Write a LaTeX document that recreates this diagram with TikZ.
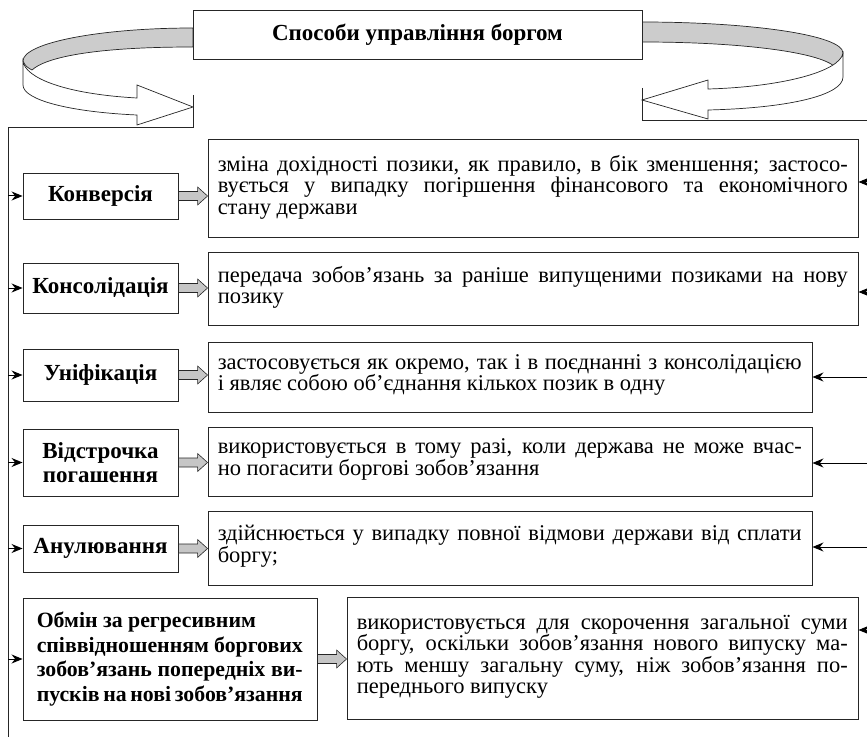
\documentclass[tikz,border=0pt]{standalone}
\usepackage{fontspec}
\setmainfont{Liberation Serif}
\usetikzlibrary{arrows.meta,calc}
\newcommand\jl[2]{\makebox[#1][s]{#2}}
\newcommand\garrow[2]{\path let \p1=(#1.east), \p2=(#2.west) in [draw=black!85, fill=gray!45, line width=0.6pt] (\x1,\y1+4.5pt) -- (\x2-10pt,\y1+4.5pt) -- (\x2-10pt,\y1+9pt) -- (\x2,\y1) -- (\x2-10pt,\y1-9pt) -- (\x2-10pt,\y1-4.5pt) -- (\x1,\y1-4.5pt) -- cycle;}
\tikzset{
  box/.style={draw=black!85, line width=0.9pt, fill=white, inner sep=0pt},
  lab/.style={font=\fontsize{23}{24.5}\selectfont\bfseries, align=center, inner sep=0pt},
  desc/.style={font=\fontsize{22.5}{21.5}\selectfont, align=left, inner sep=0pt, anchor=west},
  arr/.style={line width=1pt, -{Stealth[length=11pt,width=9pt]}},
  ribbon/.style={draw=black!85, line width=0.7pt},
}
\begin{document}
\begin{tikzpicture}[x=1pt,y=-1pt]
\useasboundingbox (0,0) rectangle (867,738);
% ribbons
\path[ribbon, fill=gray!40] (193,28) .. controls (99,28) and (23,43) .. (23,61) .. controls (25,66) and (28,68) .. (32,70) .. controls (45,58) and (90,47) .. (193,47) -- cycle;
\path[ribbon, fill=white] (23,61) -- (23,85) .. controls (23,100) and (70,112) .. (137,115) -- (137,125) -- (193,107) -- (137,85) -- (137,98) .. controls (65,94) and (25,78) .. (23,61) -- cycle;
\path[ribbon, fill=gray!40] (642,22) .. controls (750,22) and (843,35) .. (843,53) .. controls (843,60) and (839,64) .. (835,67) .. controls (820,52) and (740,42) .. (642,42) -- cycle;
\path[ribbon, fill=white] (843,53) -- (843,77) .. controls (843,95) and (790,108) .. (708,110) -- (708,119) -- (642,100) -- (708,80) -- (708,89) .. controls (780,87) and (840,72) .. (843,53) -- cycle;
% title
\node[box, minimum width=449pt, minimum height=49pt, font=\fontsize{23}{24.5}\selectfont\bfseries] (title) at (417.5,34.5) {Способи управління боргом};
% frame lines
\coordinate (la) at (193,95); \coordinate (lb) at (193,127); \coordinate (lc) at (8,127); \coordinate (ld) at (8,737);
\coordinate (ra) at (642,88); \coordinate (rb) at (642,120); \coordinate (rc) at (867,120);
\draw[line width=0.9pt, black!85] (la) -- (lb) -- (lc) -- (ld);
\draw[line width=0.9pt, black!85] (ra) -- (rb) -- (rc);
% left boxes
\node[box, lab, minimum width=155pt, minimum height=46pt] (k1) at (100.5,196) {Конверсія};
\node[box, lab, minimum width=155pt, minimum height=50pt] (k2) at (100.5,288) {Консолідація};
\node[box, lab, minimum width=155pt, minimum height=52pt] (k3) at (100.5,375) {Уніфікація};
\node[box, lab, minimum width=155pt, minimum height=67pt] (k4) at (100.5,462.5) {Відстрочка\\погашення};
\node[box, lab, minimum width=155pt, minimum height=47pt] (k5) at (100.5,548.5) {Анулювання};
\node[box, minimum width=294pt, minimum height=122pt] (k6) at (170,659) {};
\node[lab, font=\fontsize{21.8}{24.5}\selectfont\bfseries, align=left, anchor=west] (k6t) at ($(k6.west)+(14,0)$) {Обмін за регресивним\\\jl{266pt}{співвідношенням боргових}\\\jl{266pt}{зобов’язань попередніх ви-}\\\jl{266pt}{пусків на нові зобов’язання}};
% description boxes
\node[box, minimum width=650pt, minimum height=98pt] (d1) at (533,188) {};
\node[box, minimum width=650pt, minimum height=73pt] (d2) at (533,288.5) {};
\node[box, minimum width=604pt, minimum height=70pt] (d3) at (510,377) {};
\node[box, minimum width=604pt, minimum height=69pt] (d4) at (510,461.5) {};
\node[box, minimum width=604pt, minimum height=74pt] (d5) at (510,548) {};
\node[box, minimum width=511pt, minimum height=122pt] (d6) at (602.5,658) {};
\node[desc] (t1) at ($(d1.west)+(10,-1)$) {\jl{630pt}{зміна дохідності позики, як правило, в бік зменшення; застосо-}\\\jl{630pt}{вується у випадку погіршення фінансового та економічного}\\стану держави};
\node[desc] (t2) at ($(d2.west)+(10,-1)$) {\jl{630pt}{передача зобов’язань за раніше випущеними позиками на нову}\\позику};
\node[desc] (t3) at ($(d3.west)+(10,-2)$) {\jl{584pt}{застосовується як окремо, так і в поєднанні з консолідацією}\\і являє собою об’єднання кількох позик в одну};
\node[desc] (t4) at ($(d4.west)+(10,-2)$) {\jl{584pt}{використовується в тому разі, коли держава не може вчас-}\\но погасити боргові зобов’язання};
\node[desc] (t5) at ($(d5.west)+(10,-2)$) {\jl{584pt}{здійснюється у випадку повної відмови держави від сплати}\\боргу;};
\node[desc] (t6) at ($(d6.west)+(10,-1)$) {\jl{491pt}{використовується для скорочення загальної суми}\\\jl{491pt}{боргу, оскільки зобов’язання нового випуску ма-}\\\jl{491pt}{ють меншу загальну суму, ніж зобов’язання по-}\\переднього випуску};
% grey block arrows
\garrow{k1}{d1}
\garrow{k2}{d2}
\garrow{k3}{d3}
\garrow{k4}{d4}
\garrow{k5}{d5}
\garrow{k6}{d6}
% left arrows
\foreach \k in {k1,k2,k3,k4,k5,k6} {\draw[arr] (\k.west -| lc) -- (\k.west);}
% right arrows
\coordinate (e1) at (867,182); \coordinate (e2) at (867,292); \coordinate (e3) at (867,377);
\coordinate (e4) at (867,463); \coordinate (e5) at (867,547); \coordinate (e6) at (867,630);
\draw[arr] (e1) -- (e1 -| d1.east);
\draw[arr] (e2) -- (e2 -| d2.east);
\draw[arr] (e3) -- (e3 -| d3.east);
\draw[arr] (e4) -- (e4 -| d4.east);
\draw[arr] (e5) -- (e5 -| d5.east);
\draw[arr] (e6) -- (e6 -| d6.east);
\end{tikzpicture}
\end{document}
